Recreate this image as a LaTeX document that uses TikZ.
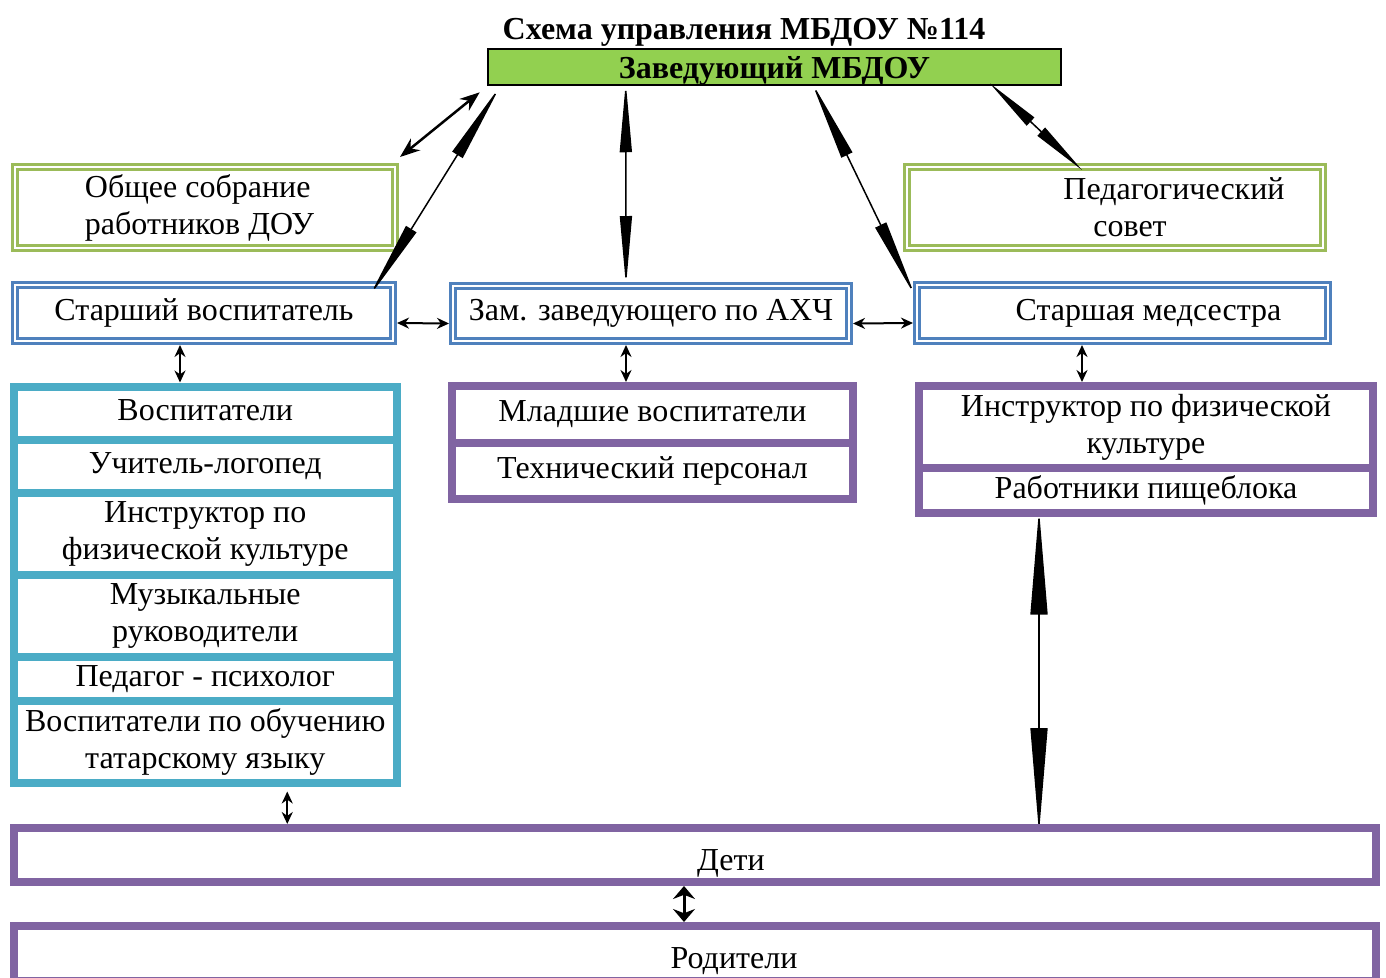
\documentclass[tikz,border=0pt]{standalone}
\usepackage{fontspec}
\setmainfont{Liberation Serif}
\usetikzlibrary{arrows.meta}
\definecolor{zavgreen}{HTML}{92D050}
\definecolor{boxgreen}{HTML}{9BBB59}
\definecolor{boxblue}{HTML}{4F81BD}
\definecolor{boxteal}{HTML}{4BACC6}
\definecolor{boxviolet}{HTML}{8064A2}
\newcommand{\lowered}[2]{\raisebox{-#1}[\height][\depth]{#2}}
\begin{document}
\begin{tikzpicture}[x=1pt,y=-1pt,
    every node/.style={inner sep=0pt, font=\fontsize{32}{37}\selectfont},
    greenbox/.style={draw=boxgreen, double=white, line width=3pt, double distance=2pt, outer sep=4pt, align=center},
    bluebox/.style={draw=boxblue, double=white, line width=3pt, double distance=2pt, outer sep=4pt, align=center},
    tealrow/.style={draw=boxteal, line width=8pt, align=center},
    violetrow/.style={draw=boxviolet, line width=8pt, align=center},
    arr/.style={{Stealth[length=12pt,width=11pt]}-{Stealth[length=12pt,width=11pt]}, line width=2pt},
    longarr/.style={{Triangle[length=70pt,width=12pt]}-{Triangle[length=70pt,width=12pt]}, line width=1.5pt}]
  \useasboundingbox (0,0) rectangle (1386,977);

  % header
  \node[font=\fontsize{32}{37}\selectfont\bfseries] (title) at (744,32) {Схема управления МБДОУ №114};
  \node[draw=black, fill=zavgreen, line width=2.5pt, minimum width=573pt, minimum height=36pt,
        font=\fontsize{32}{37}\selectfont\bfseries] (zav) at (774.5,67) {\lowered{4pt}{Заведующий МБДОУ}};

  % second row
  \node[greenbox, minimum width=380pt, minimum height=81pt, align=left] (obs) at (205,207.5) {Общее собрание\\работников ДОУ\hspace*{11pt}};
  \node[greenbox, minimum width=416pt, minimum height=81pt] (ped) at (1115,207.5) {\hspace*{118pt}Педагогический\\\hspace*{30pt}совет};

  % third row
  \node[bluebox, minimum width=378pt, minimum height=56pt] (sv) at (204,313) {Старший воспитатель};
  \node[bluebox, minimum width=396pt, minimum height=55pt] (zam) at (651,313.5) {Зам. заведующего по АХЧ};
  \node[bluebox, minimum width=411pt, minimum height=56pt] (med) at (1122.5,313) {\hspace*{52pt}Старшая медсестра};

  % left column
  \node[tealrow, minimum width=383.5pt, minimum height=53.5pt] (vos) at (205.25,413.25) {\lowered{-3pt}{Воспитатели}};
  \node[tealrow, minimum width=383.5pt, minimum height=53pt] (log) at (205.25,466.5) {Учитель-логопед};
  \node[tealrow, minimum width=383.5pt, minimum height=82pt] (fiz) at (205.25,534) {Инструктор по\\физической культуре};
  \node[tealrow, minimum width=383.5pt, minimum height=82pt] (muz) at (205.25,616) {Музыкальные\\руководители};
  \node[tealrow, minimum width=383.5pt, minimum height=44pt] (psy) at (205.25,679) {Педагог - психолог};
  \node[tealrow, minimum width=383.5pt, minimum height=81.5pt] (tat) at (205.25,741.75) {Воспитатели по обучению\\татарскому языку};

  % middle column
  \node[violetrow, minimum width=401pt, minimum height=57pt] (mlad) at (652.5,414.5) {Младшие воспитатели};
  \node[violetrow, minimum width=401pt, minimum height=56pt] (tech) at (652.5,471) {Технический персонал};

  % right column
  \node[violetrow, minimum width=454pt, minimum height=82pt] (instr) at (1146,427) {Инструктор по физической\\культуре};
  \node[violetrow, minimum width=454pt, minimum height=44.5pt] (rab) at (1146,490.25) {Работники пищеблока};

  % bottom
  \node[violetrow, minimum width=1362pt, minimum height=54pt] (deti) at (695,855) {\hspace*{72pt}\lowered{8pt}{Дети}};
  \node[violetrow, minimum width=1362pt, minimum height=55pt] (rod) at (695,953.5) {\hspace*{78pt}\lowered{8pt}{Родители}};

  % connectors
  \draw[arr, line width=2.5pt, {Stealth[length=20pt,width=15pt]}-{Stealth[length=20pt,width=15pt]}]
    ([xshift=1pt,yshift=6pt]obs.north east) -- ([xshift=-7pt,yshift=-6pt]zav.south west);
  \draw[longarr, {Triangle[length=82pt,width=12pt]}-{Triangle[length=80pt,width=12pt]}]
    ([xshift=14pt,yshift=1pt]zav.south west) -- ([xshift=-28pt,yshift=-16pt]sv.north east);
  \draw[longarr] ([xshift=139pt,yshift=4pt]zav.south west) -- ([xshift=-25pt,yshift=-4pt]zam.north);
  \draw[longarr, {Triangle[length=82pt,width=12pt]}-{Triangle[length=80pt,width=12pt]}]
    ([xshift=324.5pt,yshift=5pt]zav.south west) -- ([xshift=2.5pt,yshift=-16pt]med.north west);
  \draw[longarr, {Triangle[length=56pt,width=11pt]}-{Triangle[length=56pt,width=11pt]}]
    ([xshift=503pt,yshift=3pt]zav.south west) -- ([xshift=179pt,yshift=-7pt]ped.north west);
  \draw[arr] ([yshift=-10pt]sv.east) -- ([yshift=-10pt]zam.west);
  \draw[arr] ([yshift=-10pt]zam.east) -- ([yshift=-10pt]med.west);

  \coordinate (svdown) at ([xshift=-24pt]sv.south);
  \coordinate (zamdown) at ([xshift=-25pt]zam.south);
  \coordinate (meddown) at ([xshift=-40.5pt]med.south);
  \coordinate (rabdown) at ([xshift=-107pt,yshift=7pt]rab.south);
  \coordinate (tatdown) at ([xshift=82pt,yshift=-5pt]tat.south);
  \coordinate (detidown) at ([xshift=-11pt]deti.south);
  \draw[arr] (svdown) -- (svdown |- vos.north);
  \draw[arr] (zamdown) -- (zamdown |- mlad.north);
  \draw[arr] (meddown) -- (meddown |- instr.north);
  \draw[longarr, {Triangle[length=105pt,width=17pt]}-{Triangle[length=105pt,width=17pt]}]
    (rabdown) -- ([yshift=-9pt]rabdown |- deti.north);
  \draw[arr] (tatdown) -- (tatdown |- deti.north);
  \draw[arr, line width=3pt, {Stealth[length=13pt,width=22pt]}-{Stealth[length=13pt,width=22pt]}]
    (detidown) -- (detidown |- rod.north);
\end{tikzpicture}
\end{document}
